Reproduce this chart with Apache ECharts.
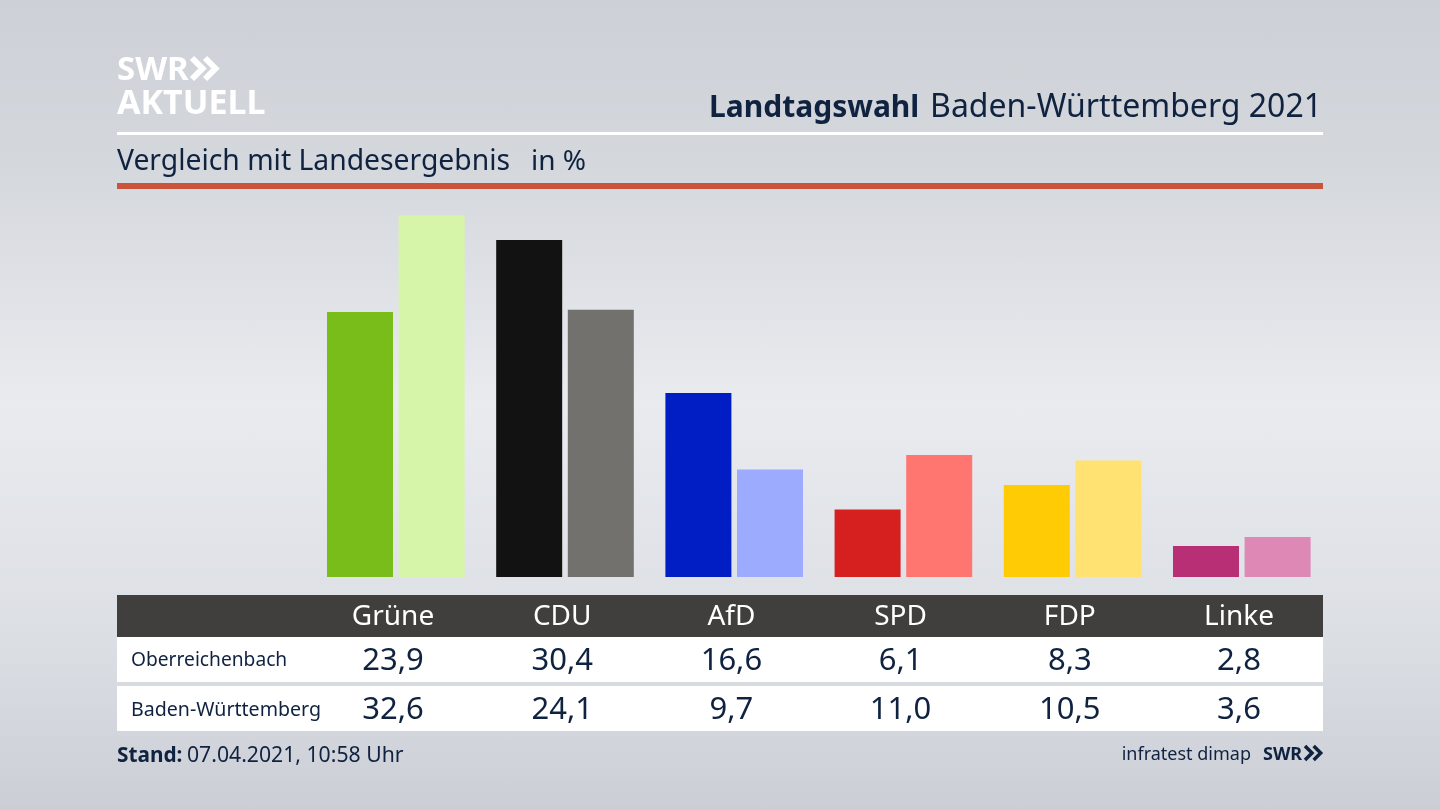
<!DOCTYPE html>
<html lang="de">
<head>
<meta charset="UTF-8">
<title>Landtagswahl Baden-Württemberg 2021</title>
<style>
  html, body { margin: 0; padding: 0; width: 1440px; height: 810px; overflow: hidden; }
  body {
    background: linear-gradient(180deg, #cdd0d6 0, #d4d7dc 20%, #e9ebef 50%, #dcdfe4 78%, #cbced5 100%);
  }
  #main { width: 1440px; height: 810px; }
</style>
</head>
<body>
<div id="main"></div>
<script src="https://cdn.jsdelivr.net/npm/echarts@6/dist/echarts.min.js"></script>
<script>
var parties = ['Grüne', 'CDU', 'AfD', 'SPD', 'FDP', 'Linke'];
var oberreichenbach = [23.9, 30.4, 16.6, 6.1, 8.3, 2.8];
var badenWuerttemberg = [32.6, 24.1, 9.7, 11.0, 10.5, 3.6];
var darkColors = ['#78bd19', '#121212', '#001ec4', '#d61f1f', '#ffcb05', '#b92f76'];
var lightColors = ['#d7f5a8', '#72716e', '#9dabff', '#ff7570', '#ffe271', '#de88b6'];

var FONT = '"Noto Sans", sans-serif';
var NAVY = '#0f2240';

function fmt(v) {
  return v.toFixed(1).replace('.', ',');
}
function rect(x, y, w, h, fill) {
  return { type: 'rect', shape: { x: x, y: y, width: w, height: h }, style: { fill: fill }, silent: true };
}
function text(str, x, y, size, fill, align, weight) {
  return {
    type: 'text', x: x, y: y, silent: true,
    style: {
      text: str, fill: fill, font: (weight || 'normal') + ' ' + size + 'px ' + FONT,
      textAlign: align || 'left', textVerticalAlign: 'middle'
    }
  };
}
// the two arrows of the SWR logo
function chevrons(x, y, h, lw, fill) {
  var out = [];
  for (var i = 0; i < 2; i++) {
    out.push({
      type: 'polyline', silent: true,
      shape: { points: [[x + i * h * 0.62, y], [x + i * h * 0.62 + h * 0.5, y + h / 2], [x + i * h * 0.62, y + h]] },
      style: { stroke: fill, lineWidth: lw, fill: null }
    });
  }
  return out;
}

var myChart = echarts.init(document.getElementById('main'));

myChart.setOption({
  animation: false,
  grid: { left: 311.2, width: 1015.2, top: 189, height: 388 },
  xAxis: {
    type: 'category', data: parties,
    axisLine: { show: false }, axisTick: { show: false }, axisLabel: { show: false }
  },
  yAxis: { type: 'value', min: 0, max: 35, show: false, splitLine: { show: false } },
  series: [{
    name: 'Oberreichenbach', type: 'bar', barWidth: 66, barGap: '8.5%',
    data: oberreichenbach.map(function (v, i) {
      return { value: v, itemStyle: { color: darkColors[i] } };
    })
  }, {
    name: 'Baden-Württemberg', type: 'bar', barWidth: 66,
    data: badenWuerttemberg.map(function (v, i) {
      return { value: v, itemStyle: { color: lightColors[i] } };
    })
  }]
});

var els = [
  rect(117, 132, 1206, 3, '#ffffff'),
  rect(117, 183, 1206, 6, '#cb533a'),
  rect(117, 595, 1206, 42, '#403f3d'),
  rect(117, 637, 1206, 45, '#ffffff'),
  rect(117, 686, 1206, 45, '#ffffff'),
  text('SWR', 117, 71, 33, '#ffffff', 'left', 'bold'),
  text('AKTUELL', 117, 104, 34, '#ffffff', 'left', 'bold'),
  text('Landtagswahl', 709, 108, 30, NAVY, 'left', 'bold'),
  text('Baden-Württemberg 2021', 1322, 108, 32, NAVY, 'right'),
  text('Vergleich mit Landesergebnis', 117, 162, 28.3, NAVY),
  text('in %', 531, 162, 28, NAVY),
  text('Oberreichenbach', 131, 661, 19.2, NAVY),
  text('Baden-Württemberg', 131, 710, 19.6, NAVY),
  text('Stand:', 117, 756, 20.8, NAVY, 'left', 'bold'),
  text('07.04.2021, 10:58 Uhr', 187, 756, 21.2, NAVY),
  text('infratest dimap', 1251, 755, 18, NAVY, 'right'),
  text('SWR', 1263, 755, 18, NAVY, 'left', 'bold')
].concat(chevrons(192, 58, 21, 6, '#ffffff'), chevrons(1305, 746, 14, 3.5, NAVY));

// table columns sit a little left of the bar groups
parties.forEach(function (name, i) {
  var cx = myChart.convertToPixel({ xAxisIndex: 0 }, i) - 2.8;
  els.push(text(name, cx, 617, 28, '#ffffff', 'center'));
  els.push(text(fmt(oberreichenbach[i]), cx, 661, 31, NAVY, 'center'));
  els.push(text(fmt(badenWuerttemberg[i]), cx, 710, 31, NAVY, 'center'));
});

myChart.setOption({ graphic: { elements: els } });
</script>
</body>
</html>
